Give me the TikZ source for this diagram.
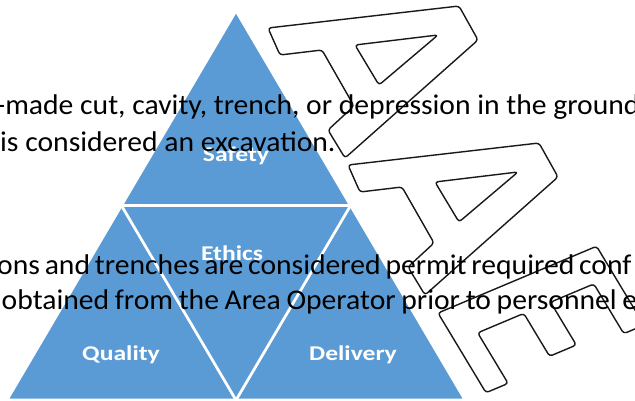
\documentclass[tikz,border=0pt]{standalone}
\usepackage{fontspec}
\setmainfont{Carlito}[FakeStretch=1.04]
\newfontfamily\segfont[FakeStretch=1.22]{Carlito}
\usetikzlibrary{calc}
\definecolor{pyrblue}{RGB}{91,155,213}
\definecolor{outlinegray}{RGB}{25,25,25}

\begin{document}
\begin{tikzpicture}[
  x=1pt, y=-1pt,
  seg/.style={fill=pyrblue, draw=white, line width=2.6pt, line join=round},
  seglabel/.style={anchor=base, text=white, inner sep=0pt, font=\segfont\bfseries\fontsize{21}{24}\selectfont},
  bodyline/.style={anchor=base west, inner sep=0pt, font=\fontsize{28.5}{32}\selectfont},
  wmark/.style={fill=white, draw=outlinegray, line width=1.4pt, rounded corners=3pt, line join=round}
]
  \useasboundingbox (0,0) rectangle (635,401);
  \clip (0,0) rectangle (635,401);
  \fill[white] (0,0) rectangle (635,401);

  \coordinate (apex) at (236,11);
  \coordinate (lbase) at (7,400);
  \coordinate (rbase) at (465,400);
  \coordinate (lmid) at ($(apex)!0.5!(lbase)$);
  \coordinate (rmid) at ($(apex)!0.5!(rbase)$);
  \coordinate (bmid) at ($(lbase)!0.5!(rbase)$);

  \filldraw[seg] (apex) -- (lmid) -- (rmid) -- cycle;
  \filldraw[seg] (lmid) -- (lbase) -- (bmid) -- cycle;
  \filldraw[seg] (rmid) -- (bmid) -- (rbase) -- cycle;
  \filldraw[seg] (lmid) -- (rmid) -- (bmid) -- cycle;

  \node[seglabel] (safety) at (236,162) {Safety};
  \node[seglabel] (ethics) at (232,260) {Ethics};
  \node[seglabel] (quality) at (121,360) {Quality};
  \node[seglabel] (delivery) at (353,360) {Delivery};

  \foreach \sx/\sy in {0/0, 80/137} {
    \begin{scope}[shift={(\sx,\sy)}]
      \filldraw[wmark] (268,28) -- (459,6) -- (478,40) -- (345,158) -- (328,130)
        -- (354,106) -- (322,50) -- (280,55) -- cycle;
      \filldraw[wmark] (355,45) -- (438,35) -- (379,85) -- cycle;
    \end{scope}
  }

  \coordinate (ebase) at (438,313);
  \begin{scope}[shift={(ebase)}, x={(0.922pt,0.388pt)}, y={(0.516pt,-0.857pt)}]
    \filldraw[wmark] (0,0) -- (172,0) -- (172,92) -- (150,92) -- (150,34) -- (103,34)
      -- (103,84) -- (74,84) -- (74,34) -- (24,34) -- (24,93) -- (0,93) -- cycle;
  \end{scope}

  \node[bodyline] (line1) at (-4,115) {-made cut, cavity, trench, or depression in the ground};
  \node[bodyline] (line2) at (0,152) {is considered an excavation.};
  \node[bodyline] (line3) at (-3,274) {\spaceskip=0.17em ons and trenches are considered permit required conf};
  \node[bodyline] (line4) at (1.5,309) {\spaceskip=0.2em obtained from the Area Operator prior to personnel e};
\end{tikzpicture}
\end{document}
